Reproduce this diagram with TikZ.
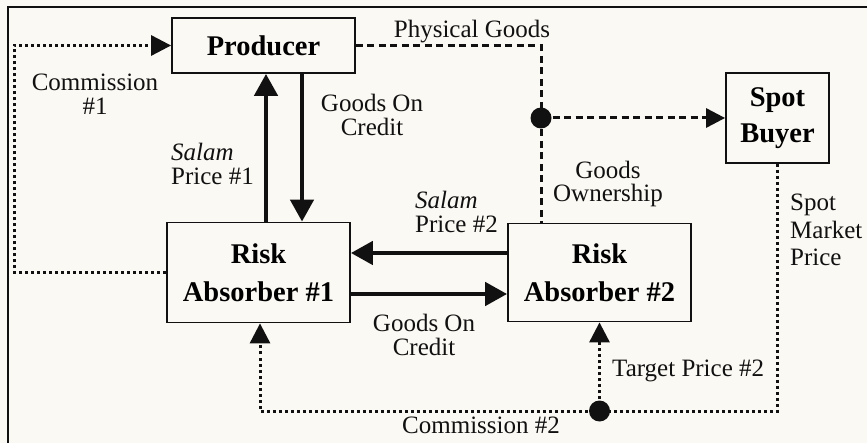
\documentclass[tikz,border=0pt]{standalone}
\usepackage{fontspec}
\setmainfont{Liberation Serif}
\usetikzlibrary{arrows.meta,positioning}
\definecolor{paper}{RGB}{251,249,243}
\definecolor{ink}{RGB}{17,17,17}

\begin{document}
\begin{tikzpicture}[x=1pt,y=-1pt,
    party/.style={draw=ink,line width=1.8pt,align=center,inner sep=0pt,
      font=\fontsize{28.5}{38}\selectfont\bfseries},
    lbl/.style={inner sep=0pt,align=center,text=ink,
      font=\fontsize{25}{23.5}\selectfont},
    heavy/.style={ink,line width=4.6pt,-{Triangle[length=22pt,width=23pt]}},
    dashline/.style={ink,line width=3pt,dash pattern=on 7pt off 4.5pt},
    dotline/.style={ink,line width=3pt,dash pattern=on 3pt off 3pt},
    dottip/.style={-{Triangle[length=20pt,width=20pt]}}]
  % paper and frame
  \useasboundingbox (0,0) rectangle (867,443);
  \fill[paper] (0,0) rectangle (867,443);
  \draw[ink,line width=2.5pt] (8,443) -- (8,7) -- (867,7);

  % the parties
  \node[party,minimum width=183,minimum height=55] (prod) at (263.5,45.5) {Producer};
  \node[party,minimum width=183,minimum height=100] (ra1) at (258.5,272.5) {Risk\\Absorber \#1};
  \node[party,minimum width=183,minimum height=98] (ra2) at (599.5,272.5) {Risk\\Absorber \#2};
  \node[party,minimum width=103,minimum height=90,font=\fontsize{28.5}{36}\selectfont\bfseries]
    (buyer) at (777.5,118) {Spot\\Buyer};

  % junctions
  \coordinate (j1) at (541,118);
  \coordinate (j2) at (599.5,411);

  % goods
  \draw[dashline] (prod.east) -| (j1);
  \draw[dashline] (j1) -- (j1 |- ra2.north);
  \draw[dashline,-{Triangle[length=19pt,width=19pt]}] (j1) -- (buyer.west);

  % salam deals, price and credit
  \draw[heavy] ([xshift=7.5]ra1.north) -- ([xshift=2.5]prod.south);
  \draw[heavy] ([xshift=38.5]prod.south) -- ([xshift=43.5]ra1.north);
  \draw[heavy] ([yshift=19.5]ra2.west) -- ([yshift=19.5]ra1.east);
  \draw[heavy] ([yshift=-21.5]ra1.east) -- ([yshift=-21.5]ra2.west);

  % commissions and market price
  \draw[dotline,dottip] (ra1.west) -- ++(-152,0) |- (prod.west);
  \draw[dotline] (buyer.south) |- (j2);
  \draw[dotline,dottip] (j2) -| ([xshift=1.5]ra1.south);
  \draw[dotline,dottip] (j2) -- (ra2.south);

  \foreach \j in {j1,j2}
    \fill[ink] (\j) circle (10.5);

  % labels
  \node[lbl,anchor=base] (lpg) at (472,37.5) {Physical Goods};
  \node[lbl] (lc1) at (95,94) {Commission\\\#1};
  \node[lbl,align=left,anchor=west] (lsp1) at (171,164) {\textit{Salam}\\Price \#1};
  \node[lbl] (lgc1) at (372,115) {Goods On\\Credit};
  \node[lbl] (lgo) at (608,184) {Goods\\Ownership};
  \node[lbl,align=left,anchor=west] (lsp2) at (415,212) {\textit{Salam}\\Price \#2};
  \node[lbl] (lgc2) at (424,335) {Goods On\\Credit};
  \node[lbl,align=left,anchor=west,font=\fontsize{25}{27.5}\selectfont] (lsmp) at (790,230) {Spot\\Market\\Price};
  \node[lbl,anchor=base west] (ltp) at (612,377) {Target Price \#2};
  \node[lbl,anchor=base west] (lc2) at (402,433) {Commission \#2};
\end{tikzpicture}
\end{document}
